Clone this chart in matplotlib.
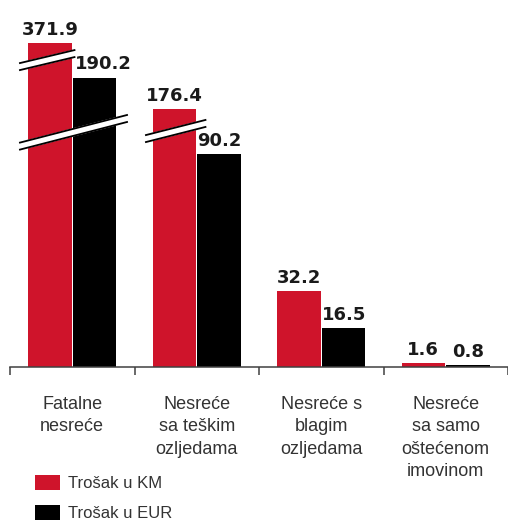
import matplotlib.pyplot as plt
import numpy as np
from matplotlib.transforms import blended_transform_factory

categories = ["Fatalne\nnesreće", "Nesreće\nsa teškim\nozljedama",
              "Nesreće s\nblagim\nozljedama", "Nesreće\nsa samo\noštećenom\nimovinom"]
cost_km = [371.9, 176.4, 32.2, 1.6]
cost_eur = [190.2, 90.2, 16.5, 0.8]
series_names = ["Trošak u KM", "Trošak u EUR"]

RED = '#cf142b'
BLACK = '#000000'
GREY = '#333333'

# broken value axis: tall bars are squeezed
bp_data = [0, 90.2, 176.4, 190.2, 371.9]
bp_shown = [0, 90.2, 109.2, 122.6, 137.2]

def fwd(v):
    return np.interp(v, bp_data, bp_shown)

def inv(s):
    return np.interp(s, bp_shown, bp_data)

W, H = 508, 522
px_per_unit = 2.36
cat_px = 126.7
ymax = max(cost_km)
top_shown = float(fwd(ymax))

fig = plt.figure(figsize=(W / 100, H / 100), dpi=100)
ax = fig.add_axes([10 / W, (H - 367) / H, 498 / W, top_shown * px_per_unit / H])
ax.set_yscale('function', functions=(fwd, inv))
ax.set_ylim(0, ymax)
ax.set_xlim(-0.5, -0.5 + 498 / cat_px)

x = np.arange(len(categories))
width = 0.35
ax.bar(x - 0.18, cost_km, width, color=RED, label=series_names[0], zorder=2)
ax.bar(x + 0.18, cost_eur, width, color=BLACK, label=series_names[1], zorder=2)

# value labels
for i in range(len(categories)):
    ax.annotate(str(cost_km[i]), (x[i] - 0.18, cost_km[i]), xytext=(0, 6),
                textcoords='offset points', ha='center', va='baseline',
                fontsize=13, fontweight='bold', family='DejaVu Sans',
                color='#1a1a1a', annotation_clip=False, zorder=5)
    dx = 6.5 if i == 0 else 0
    ax.annotate(str(cost_eur[i]), (x[i] + 0.18, cost_eur[i]), xytext=(dx, 6),
                textcoords='offset points', ha='center', va='baseline',
                fontsize=13, fontweight='bold', family='DejaVu Sans',
                color='#1a1a1a', annotation_clip=False, zorder=5)

# break marks (x in data, y in shown units)
tr = blended_transform_factory(ax.transData, ax.transAxes)
half = 3.5 / px_per_unit

def draw_break(x0, x1, s0, s1):
    ys = np.array([s0 - half, s1 - half, s1 + half, s0 + half]) / top_shown
    ax.fill([x0, x1, x1, x0], ys, color='white', transform=tr, zorder=3, clip_on=False)
    ax.plot([x0, x1], [(s0 - half) / top_shown, (s1 - half) / top_shown],
            color='black', lw=1.3, transform=tr, zorder=4, clip_on=False)
    ax.plot([x0, x1], [(s0 + half) / top_shown, (s1 + half) / top_shown],
            color='black', lw=1.3, transform=tr, zorder=4, clip_on=False)

draw_break(-0.42, 0.018, 127.3, 132.8)
draw_break(-0.42, 0.44, 93.6, 105.3)
draw_break(0.592, 1.07, 96.8, 103.2)

# axes styling
for s in ['left', 'top', 'right']:
    ax.spines[s].set_visible(False)
ax.spines['bottom'].set_color('#404040')
ax.spines['bottom'].set_linewidth(1.1)
ax.set_yticks([])
ax.yaxis.set_minor_locator(plt.NullLocator())
ax.set_xticks(np.arange(len(categories) + 1) - 0.5)
ax.set_xticklabels([])
ax.tick_params(axis='x', which='major', length=6, width=1.1, color='#404040', direction='out')
ax.set_xticks(x, minor=True)
ax.set_xticklabels(categories, minor=True, fontsize=13, family='Liberation Sans',
                   color=GREY, linespacing=1.4)
ax.tick_params(axis='x', which='minor', length=0, pad=21)

ax.legend(loc='upper left', bbox_to_anchor=(35 / W, 1 - 475 / H),
          bbox_transform=fig.transFigure, frameon=False, borderpad=0,
          borderaxespad=0, handlelength=1.5, handleheight=1.0,
          handletextpad=0.5, labelspacing=0.85,
          prop={'family': 'Liberation Sans', 'size': 12}, labelcolor=GREY)

fig.savefig('out.png', dpi=100)
